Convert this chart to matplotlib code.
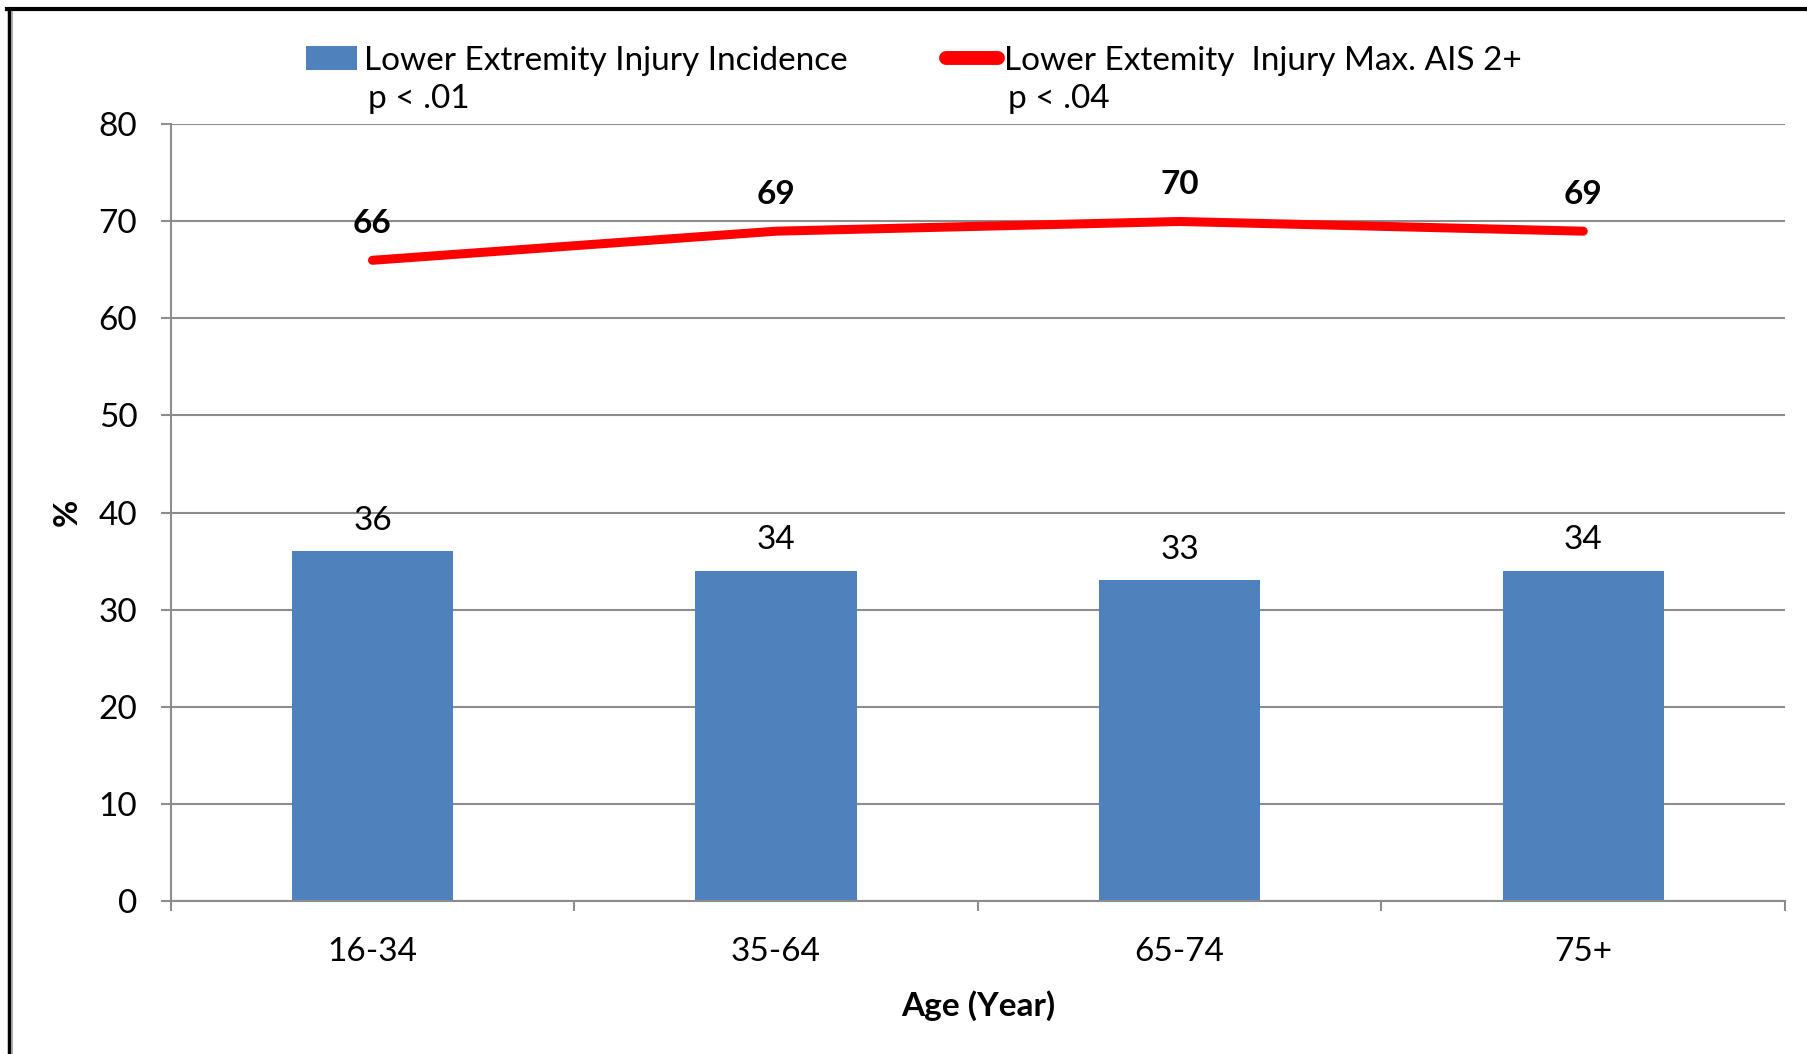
import numpy as np
import matplotlib
matplotlib.use("Agg")
import matplotlib.pyplot as plt
from matplotlib.lines import Line2D

plt.rcParams['font.family'] = ['Lato', 'DejaVu Sans']

age_groups = ["16-34", "35-64", "65-74", "75+"]
incidence = [36, 34, 33, 34]
max_ais2 = [66, 69, 70, 69]

bar_label = "Lower Extremity Injury Incidence"
line_label = "Lower Extemity  Injury Max. AIS 2+"
p_values = ["p < .01", "p < .04"]

bar_color = "#4F81BD"
line_color = "#FF0000"
grid_color = "#8C8C8C"
fs = 24

fig = plt.figure(figsize=(18.08, 10.54), dpi=100)
ax = fig.add_axes([0.0944, 0.1456, 0.8929, 0.7363])

x = np.arange(len(age_groups))
bars = ax.bar(x, incidence, width=0.4, color=bar_color, zorder=2, label=bar_label)
line, = ax.plot(x, max_ais2, color=line_color, lw=6.5, solid_capstyle='round', zorder=3,
                label=line_label)

for xi, v in zip(x, incidence):
    ax.annotate(str(v), (xi, v), xytext=(0, 11), textcoords='offset points',
                ha='center', va='bottom', fontsize=fs)
for xi, v in zip(x, max_ais2):
    ax.annotate(str(v), (xi, v), xytext=(0, 16), textcoords='offset points',
                ha='center', va='bottom', fontsize=fs, fontweight='bold')

ax.set_xlim(-0.5, len(age_groups) - 0.5)
ax.set_ylim(0, 80)
ax.set_yticks(np.arange(0, 81, 10))
ax.set_xticks(x)
ax.set_xticklabels(age_groups)
ax.set_xticks(np.arange(-0.5, len(age_groups)), minor=True)
ax.tick_params(axis='x', which='major', length=0, pad=26, labelsize=fs)
ax.tick_params(axis='x', which='minor', length=7, width=1.5, color=grid_color, direction='out')
ax.tick_params(axis='y', length=7, width=1.5, color=grid_color, labelsize=fs, pad=17)

ax.yaxis.grid(True, color=grid_color, lw=1.5, zorder=0)
ax.set_axisbelow(True)
for s in ['top', 'right']:
    ax.spines[s].set_visible(False)
for s in ['left', 'bottom']:
    ax.spines[s].set_color(grid_color)
    ax.spines[s].set_linewidth(1.5)

ax.set_ylabel("%", fontsize=fs, fontweight='bold', labelpad=12)
ax.set_xlabel("Age (Year)", fontsize=fs, fontweight='bold', labelpad=17)

leg = fig.legend(handles=[bars, Line2D([], [], color=line_color, lw=10, solid_capstyle='round')],
                 labels=[bar_label, line_label], ncol=2, frameon=False, fontsize=fs,
                 loc='center left', bbox_to_anchor=(0.169, 0.9425), handlelength=1.55,
                 handletextpad=0.2, columnspacing=2.95, borderaxespad=0, borderpad=0)

fig.canvas.draw()
inv = fig.transFigure.inverted()
for t, p in zip(leg.get_texts(), p_values):
    bb = t.get_window_extent()
    x0, y0 = inv.transform((bb.x0, bb.y0))
    fig.text(x0 + 0.002, y0 - 0.008, p, fontsize=fs, ha='left', va='top')

# outer frame (top and left)
fig.add_artist(Line2D([0.004, 1.0], [0.991, 0.991], color='black', lw=3, transform=fig.transFigure))
fig.add_artist(Line2D([0.005, 0.005], [0.0, 0.991], color='black', lw=2.5, transform=fig.transFigure))
fig.add_artist(Line2D([0.0068, 0.0068], [0.0, 0.989], color='#999999', lw=1.2, transform=fig.transFigure))

fig.savefig("out.png", dpi=100)
